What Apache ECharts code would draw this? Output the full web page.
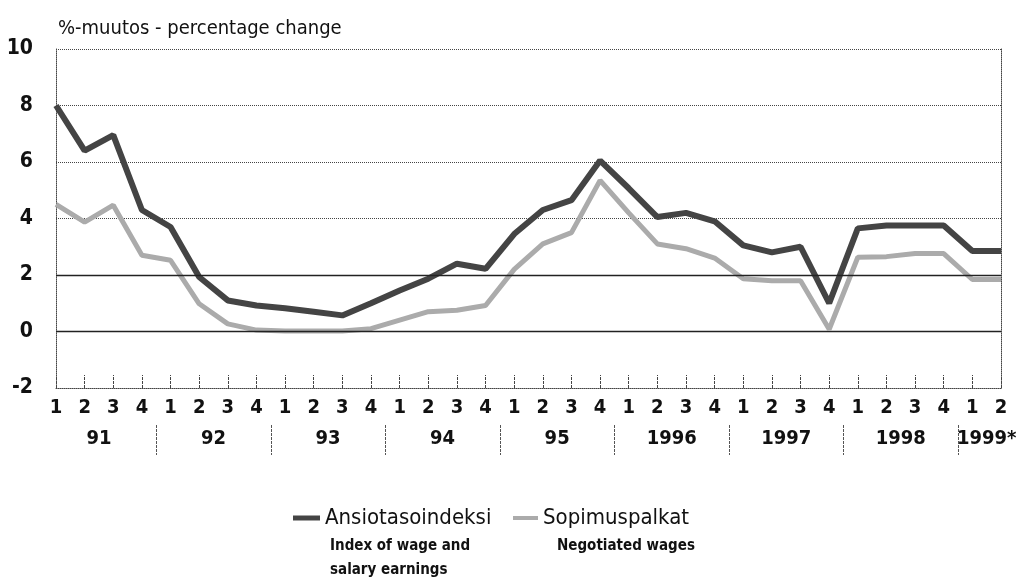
<!DOCTYPE html>
<html>
<head>
<meta charset="utf-8">
<script src="https://cdn.jsdelivr.net/npm/echarts@6/dist/echarts.min.js"></script>
<style>
html,body{margin:0;padding:0;background:#fff;}
#chart{width:1024px;height:585px;}
</style>
</head>
<body>
<div id="chart"></div>
<script>
var quarterLabels = ['1','2','3','4','1','2','3','4','1','2','3','4','1','2','3','4','1','2','3','4','1','2','3','4','1','2','3','4','1','2','3','4','1','2'];
var yearLabels = ['91','92','93','94','95','1996','1997','1998','1999*'];
var yearCenters = [1.5, 5.5, 9.5, 13.5, 17.5, 21.5, 25.5, 29.5, 32.5];
var yearSeparators = [3.5, 7.5, 11.5, 15.5, 19.5, 23.5, 27.5, 31.5];
var ansiotaso = [8.0, 6.4, 6.95, 4.3, 3.7, 1.93, 1.1, 0.92, 0.82, 0.7, 0.57, 1.0, 1.45, 1.87, 2.4, 2.22, 3.45, 4.3, 4.65, 6.05, 5.07, 4.05, 4.2, 3.9, 3.05, 2.8, 3.0, 1.0, 3.65, 3.75, 3.75, 3.75, 2.85, 2.85];
var sopimus = [4.5, 3.87, 4.47, 2.7, 2.52, 0.98, 0.27, 0.05, 0.02, 0.02, 0.02, 0.1, 0.4, 0.7, 0.75, 0.92, 2.2, 3.1, 3.5, 5.35, 4.2, 3.1, 2.93, 2.6, 1.87, 1.8, 1.8, 0.08, 2.63, 2.65, 2.76, 2.76, 1.84, 1.84];
var yTicks = {min: -2, max: 10, interval: 2};
var solidLevels = [0, 2];

var FONT = "'Liberation Sans Narrow', 'DejaVu Sans Condensed', 'Roboto Condensed', 'Liberation Sans', sans-serif";
var chart = echarts.init(document.getElementById('chart'), null, {renderer: 'canvas'});

var option = {
  animation: false,
  backgroundColor: '#fff',
  textStyle: {fontFamily: FONT},
  title: {
    text: '%-muutos - percentage change',
    left: 58, top: 19, padding: 0,
    textStyle: {fontFamily: FONT, fontSize: 20, fontWeight: 'normal', color: '#111'}
  },
  grid: {left: 56, right: 23, top: 49, bottom: 197, containLabel: false},
  legend: [
    {data: ['Ansiotasoindeksi'], left: 293, top: 507, padding: 0, icon: 'rect', itemWidth: 27, itemHeight: 5,
     textStyle: {fontFamily: FONT, fontSize: 22, color: '#111'}},
    {data: ['Sopimuspalkat'], left: 513, top: 507, padding: 0, icon: 'rect', itemWidth: 25, itemHeight: 4,
     textStyle: {fontFamily: FONT, fontSize: 22, color: '#111'}}
  ],
  xAxis: [
    {
      type: 'category', data: quarterLabels, boundaryGap: false, position: 'bottom',
      axisLine: {show: true, onZero: false, lineStyle: {color: '#444', type: 'dotted', width: 1}},
      axisTick: {show: true, inside: true, length: 13, interval: 0, lineStyle: {color: '#444', type: [3, 1]}},
      axisLabel: {interval: 0, margin: 10, fontFamily: FONT, fontSize: 20, fontWeight: 'bold', color: '#111'},
      splitLine: {show: false}
    },
    {
      type: 'value', min: 0, max: quarterLabels.length - 1, position: 'bottom', offset: 37,
      axisLine: {show: false, onZero: false},
      splitLine: {show: false},
      axisTick: {show: true, inside: false, length: 30, customValues: yearSeparators,
                 lineStyle: {color: '#555', type: [3, 1], width: 1}},
      axisLabel: {show: true, margin: 4, customValues: yearCenters,
                  fontFamily: FONT, fontSize: 20, fontWeight: 'bold', color: '#111',
                  formatter: function (v) {
                    for (var i = 0; i < yearCenters.length; i++) {
                      if (Math.abs(yearCenters[i] - v) < 0.01) return yearLabels[i];
                    }
                    return '';
                  }}
    }
  ],
  yAxis: [
    {
      type: 'value', min: yTicks.min, max: yTicks.max, interval: yTicks.interval, position: 'left',
      axisLine: {show: true, lineStyle: {color: '#444', type: 'dotted'}},
      axisTick: {show: false},
      axisLabel: {margin: 23, fontFamily: FONT, fontSize: 21, fontWeight: 'bold', color: '#111'},
      splitLine: {show: true, lineStyle: {color: '#444', type: 'dotted', width: 1}}
    },
    {
      type: 'value', min: yTicks.min, max: yTicks.max, interval: yTicks.interval, position: 'right',
      axisLine: {show: true, lineStyle: {color: '#444', type: 'dotted'}},
      axisTick: {show: false}, axisLabel: {show: false}, splitLine: {show: false}
    }
  ],
  series: [
    {
      name: 'ref', type: 'line', data: [], z: 1, silent: true,
      markLine: {
        silent: true, symbol: ['none', 'none'], label: {show: false},
        lineStyle: {color: '#222', type: 'solid', width: 1.3},
        data: solidLevels.map(function (v) { return {yAxis: v}; })
      }
    },
    {
      name: 'Sopimuspalkat', type: 'line', data: sopimus, z: 3,
      symbol: 'none', smooth: false,
      lineStyle: {color: '#ababab', width: 5},
      itemStyle: {color: '#ababab'}
    },
    {
      name: 'Ansiotasoindeksi', type: 'line', data: ansiotaso, z: 4,
      symbol: 'none', smooth: false,
      lineStyle: {color: '#444444', width: 6},
      itemStyle: {color: '#444444'}
    }
  ],
  graphic: [
    {type: 'text', left: 330, top: 539, style: {text: 'Index of wage and', font: 'bold 15px ' + FONT, fill: '#111'}},
    {type: 'text', left: 330, top: 563, style: {text: 'salary earnings', font: 'bold 15px ' + FONT, fill: '#111'}},
    {type: 'text', left: 557, top: 539, style: {text: 'Negotiated wages', font: 'bold 15px ' + FONT, fill: '#111'}}
  ]
};
chart.setOption(option);
</script>
</body>
</html>
